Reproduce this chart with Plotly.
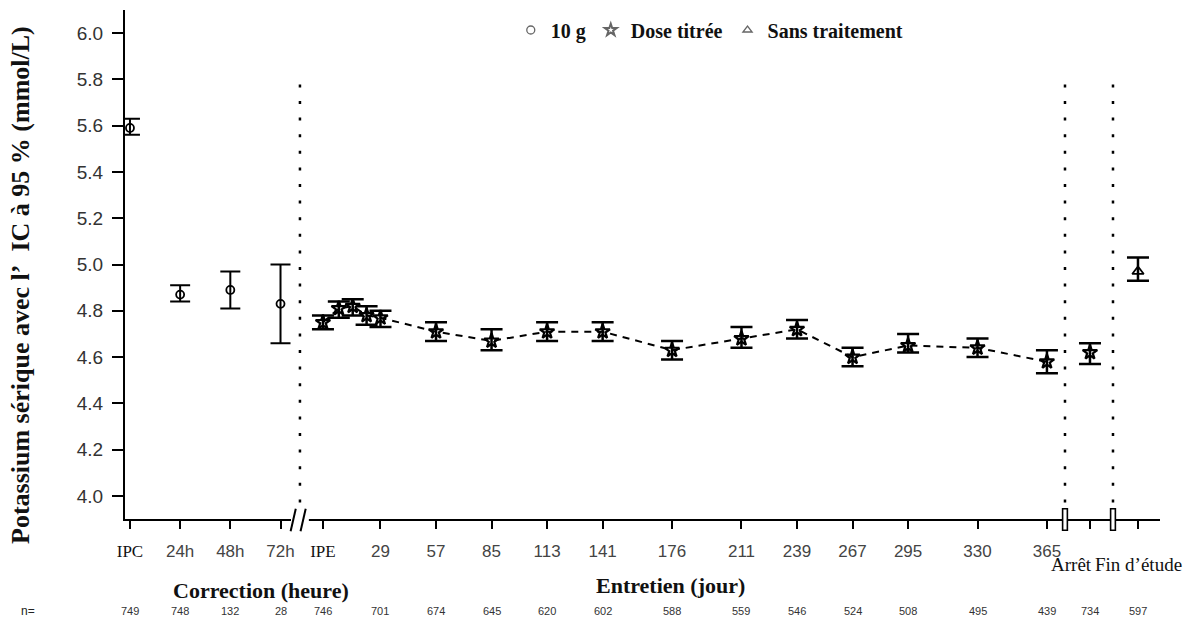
import plotly.graph_objects as go

# ---------------- data ----------------
corr_labels = ["IPC", "24h", "48h", "72h"]
corr_hours = [0, 24, 48, 72]
corr_mean = [5.59, 4.87, 4.89, 4.83]
corr_lo = [5.56, 4.84, 4.81, 4.66]
corr_hi = [5.63, 4.91, 4.97, 5.00]
corr_n = [749, 748, 132, 28]

maint_days = [0, 8, 15, 22, 29, 57, 85, 113, 141, 176, 211, 239, 267, 295, 330, 365]
maint_mean = [4.75, 4.81, 4.82, 4.78, 4.77, 4.71, 4.67, 4.71, 4.71, 4.63, 4.68, 4.72, 4.60, 4.65, 4.64, 4.58]
maint_lo = [4.72, 4.77, 4.78, 4.74, 4.73, 4.67, 4.63, 4.67, 4.67, 4.59, 4.64, 4.68, 4.56, 4.62, 4.60, 4.53]
maint_hi = [4.78, 4.84, 4.85, 4.82, 4.80, 4.75, 4.72, 4.75, 4.75, 4.67, 4.73, 4.76, 4.64, 4.70, 4.68, 4.63]

maint_tick_days = [0, 29, 57, 85, 113, 141, 176, 211, 239, 267, 295, 330, 365]
maint_tick_labels = ["IPE", "29", "57", "85", "113", "141", "176", "211", "239", "267", "295", "330", "365"]
maint_n = [746, 701, 674, 645, 620, 602, 588, 559, 546, 524, 508, 495, 439]

stop_label = "Arrêt"
stop_mean, stop_lo, stop_hi, stop_n = 4.62, 4.57, 4.66, 734
end_label = "Fin d’étude"
end_mean, end_lo, end_hi, end_n = 4.97, 4.93, 5.03, 597

legend_names = ["10 g", "Dose titrée", "Sans traitement"]
y_ticks = [4.0, 4.2, 4.4, 4.6, 4.8, 5.0, 5.2, 5.4, 5.6, 5.8, 6.0]

# ---------------- layout constants (axis units = days of maintenance) ----------------
CORR_X0 = -97.3       # axis position of IPC
CORR_STEP = 25.3      # axis units per 24 h
BREAK1 = -11.6
BREAK2 = 374.1
BREAK3 = 398.3
STOP_X = 386.7
END_X = 410.9
X_RANGE = [-99.8, 422.0]
Y_RANGE = [3.9006, 6.0994]
CORR_TITLE_X = -31.0
MAINT_TITLE_X = 175.0

def corr_x(h):
    return CORR_X0 + h * CORR_STEP / 24.0

cx = [corr_x(h) for h in corr_hours]

SERIF = "Liberation Serif, Times New Roman, serif"
SANS = "Liberation Sans, Arial, sans-serif"

fig = go.Figure()

def ebar(mean, lo, hi, width=10, thick=2):
    if not isinstance(mean, list):
        mean, lo, hi = [mean], [lo], [hi]
    return dict(type="data", symmetric=False,
                array=[h - m for h, m in zip(hi, mean)],
                arrayminus=[m - l for m, l in zip(mean, lo)],
                width=width, thickness=thick, color="black")

# 10 g (correction)
fig.add_trace(go.Scatter(x=cx, y=corr_mean, mode="markers", showlegend=False,
                         marker=dict(symbol="circle-open", size=8, color="black", line=dict(width=1.8)),
                         error_y=ebar(corr_mean, corr_lo, corr_hi, width=10, thick=2)))

# Dose titrée (maintenance) - dashed line
fig.add_trace(go.Scatter(x=maint_days, y=maint_mean, mode="lines", showlegend=False,
                         line=dict(color="black", width=2, dash="7px,6px")))
fig.add_trace(go.Scatter(x=maint_days + [STOP_X], y=maint_mean + [stop_mean], mode="markers", showlegend=False,
                         marker=dict(symbol="star-open", size=11, color="black", line=dict(width=2.2)),
                         error_y=ebar(maint_mean + [stop_mean], maint_lo + [stop_lo], maint_hi + [stop_hi],
                                      width=11, thick=2.5)))

# Sans traitement
fig.add_trace(go.Scatter(x=[END_X], y=[end_mean], mode="markers", showlegend=False,
                         marker=dict(symbol="triangle-up-open", size=10, color="black", line=dict(width=1.8)),
                         error_y=ebar(end_mean, end_lo, end_hi, width=11, thick=2.5)))

# legend entries
for name, sym in zip(legend_names, ["circle-open", "star-open", "triangle-up-open"]):
    fig.add_trace(go.Scatter(x=[None], y=[None], mode="markers", name="<b>" + name + "</b>",
                             marker=dict(symbol=sym, size=9 if sym == "star-open" else 8, color="#666",
                                         line=dict(width=2 if sym == "star-open" else 1.3,
                                                   color="#222" if sym == "star-open" else "#888"))))

# ticks
serif_span = "<span style='font-family:Liberation Serif;color:#111'>{}</span>"
tickvals = cx + maint_tick_days + [STOP_X, END_X]
ticktext = []
for lab in corr_labels + maint_tick_labels:
    ticktext.append(serif_span.format(lab) if lab in ("IPC", "IPE") else lab)
ticktext += ["", ""]

fig.update_xaxes(range=X_RANGE, showgrid=False, zeroline=False,
                 showline=True, linecolor="black", linewidth=2,
                 tickmode="array", tickvals=tickvals, ticktext=ticktext,
                 ticks="outside", ticklen=8, tickwidth=2, tickcolor="black",
                 ticklabelstandoff=8,
                 tickfont=dict(family=SANS, size=17, color="#444"))
fig.update_yaxes(range=Y_RANGE, showgrid=False, zeroline=False,
                 showline=True, linecolor="black", linewidth=2,
                 tickmode="array", tickvals=y_ticks, ticktext=[f"{v:.1f}" for v in y_ticks],
                 ticks="outside", ticklen=11, tickwidth=2, tickcolor="black",
                 ticklabelstandoff=5,
                 tickfont=dict(family=SANS, size=19, color="#333"))

shapes = []
# dotted vertical separators
for bx in [BREAK1, BREAK2, BREAK3]:
    shapes.append(dict(type="line", xref="x", yref="y", x0=bx, x1=bx, y0=Y_RANGE[0], y1=5.784,
                       line=dict(color="black", width=2.5, dash="3px,13.6px"), layer="below"))
# break mark on axis: "//"
shapes.append(dict(type="rect", xref="x", yref="paper", x0=BREAK1 - 4.5, x1=BREAK1 + 4.5, y0=-0.012, y1=0.012,
                   fillcolor="white", line=dict(width=0), layer="above"))
for dx in [-3.4, 1.6]:
    shapes.append(dict(type="line", xref="x", yref="paper", x0=BREAK1 + dx - 1.3, x1=BREAK1 + dx + 1.3,
                       y0=-0.024, y1=0.02, line=dict(color="black", width=2), layer="above"))
for bx in [BREAK2, BREAK3]:
    shapes.append(dict(type="rect", xref="x", yref="paper", x0=bx - 1.2, x1=bx + 1.2, y0=-0.022, y1=0.02,
                       fillcolor="white", line=dict(color="black", width=1.6), layer="above"))

annotations = []
def ypx(py):
    return (519 - py) / 509.0

def ann(text, x, xref, py, font, **kw):
    d = dict(text=text, x=x, xref=xref, y=ypx(py), yref="paper", showarrow=False,
             xanchor="center", yanchor="middle", font=font)
    d.update(kw)
    annotations.append(d)

ann("<b>Correction (heure)</b>", CORR_TITLE_X, "x", 590, dict(family=SERIF, size=22, color="#111"))
ann("<b>Entretien (jour)</b>", MAINT_TITLE_X, "x", 585, dict(family=SERIF, size=22, color="#111"))
ann(stop_label, STOP_X - 9.5, "x", 564, dict(family=SERIF, size=19, color="#111"))
ann(end_label, END_X + 0.5, "x", 564, dict(family=SERIF, size=19, color="#111"))
ann("n=", (28 - 125) / 1035.0, "paper", 611, dict(family=SANS, size=12, color="#222"))
for xv, nv in zip(cx + maint_tick_days + [STOP_X, END_X], corr_n + maint_n + [stop_n, end_n]):
    ann(str(nv), xv, "x", 611, dict(family=SANS, size=11, color="#333"))
ann("<b>Potassium sérique avec l’\u00a0\u00a0IC à 95 % (mmol/L)</b>", (20 - 125) / 1035.0, "paper", 285,
    dict(family=SERIF, size=26, color="#111"), textangle=-90)

fig.update_layout(width=1197, height=620, margin=dict(l=125, r=37, t=10, b=101),
                  plot_bgcolor="white", paper_bgcolor="white",
                  shapes=shapes, annotations=annotations,
                  showlegend=True,
                  legend=dict(orientation="h", x=0.565, xanchor="center", y=ypx(30), yanchor="middle",
                              font=dict(family=SERIF, size=20, color="#111"), itemwidth=30,
                              bgcolor="rgba(0,0,0,0)", tracegroupgap=0))

fig.write_html("out.html")
